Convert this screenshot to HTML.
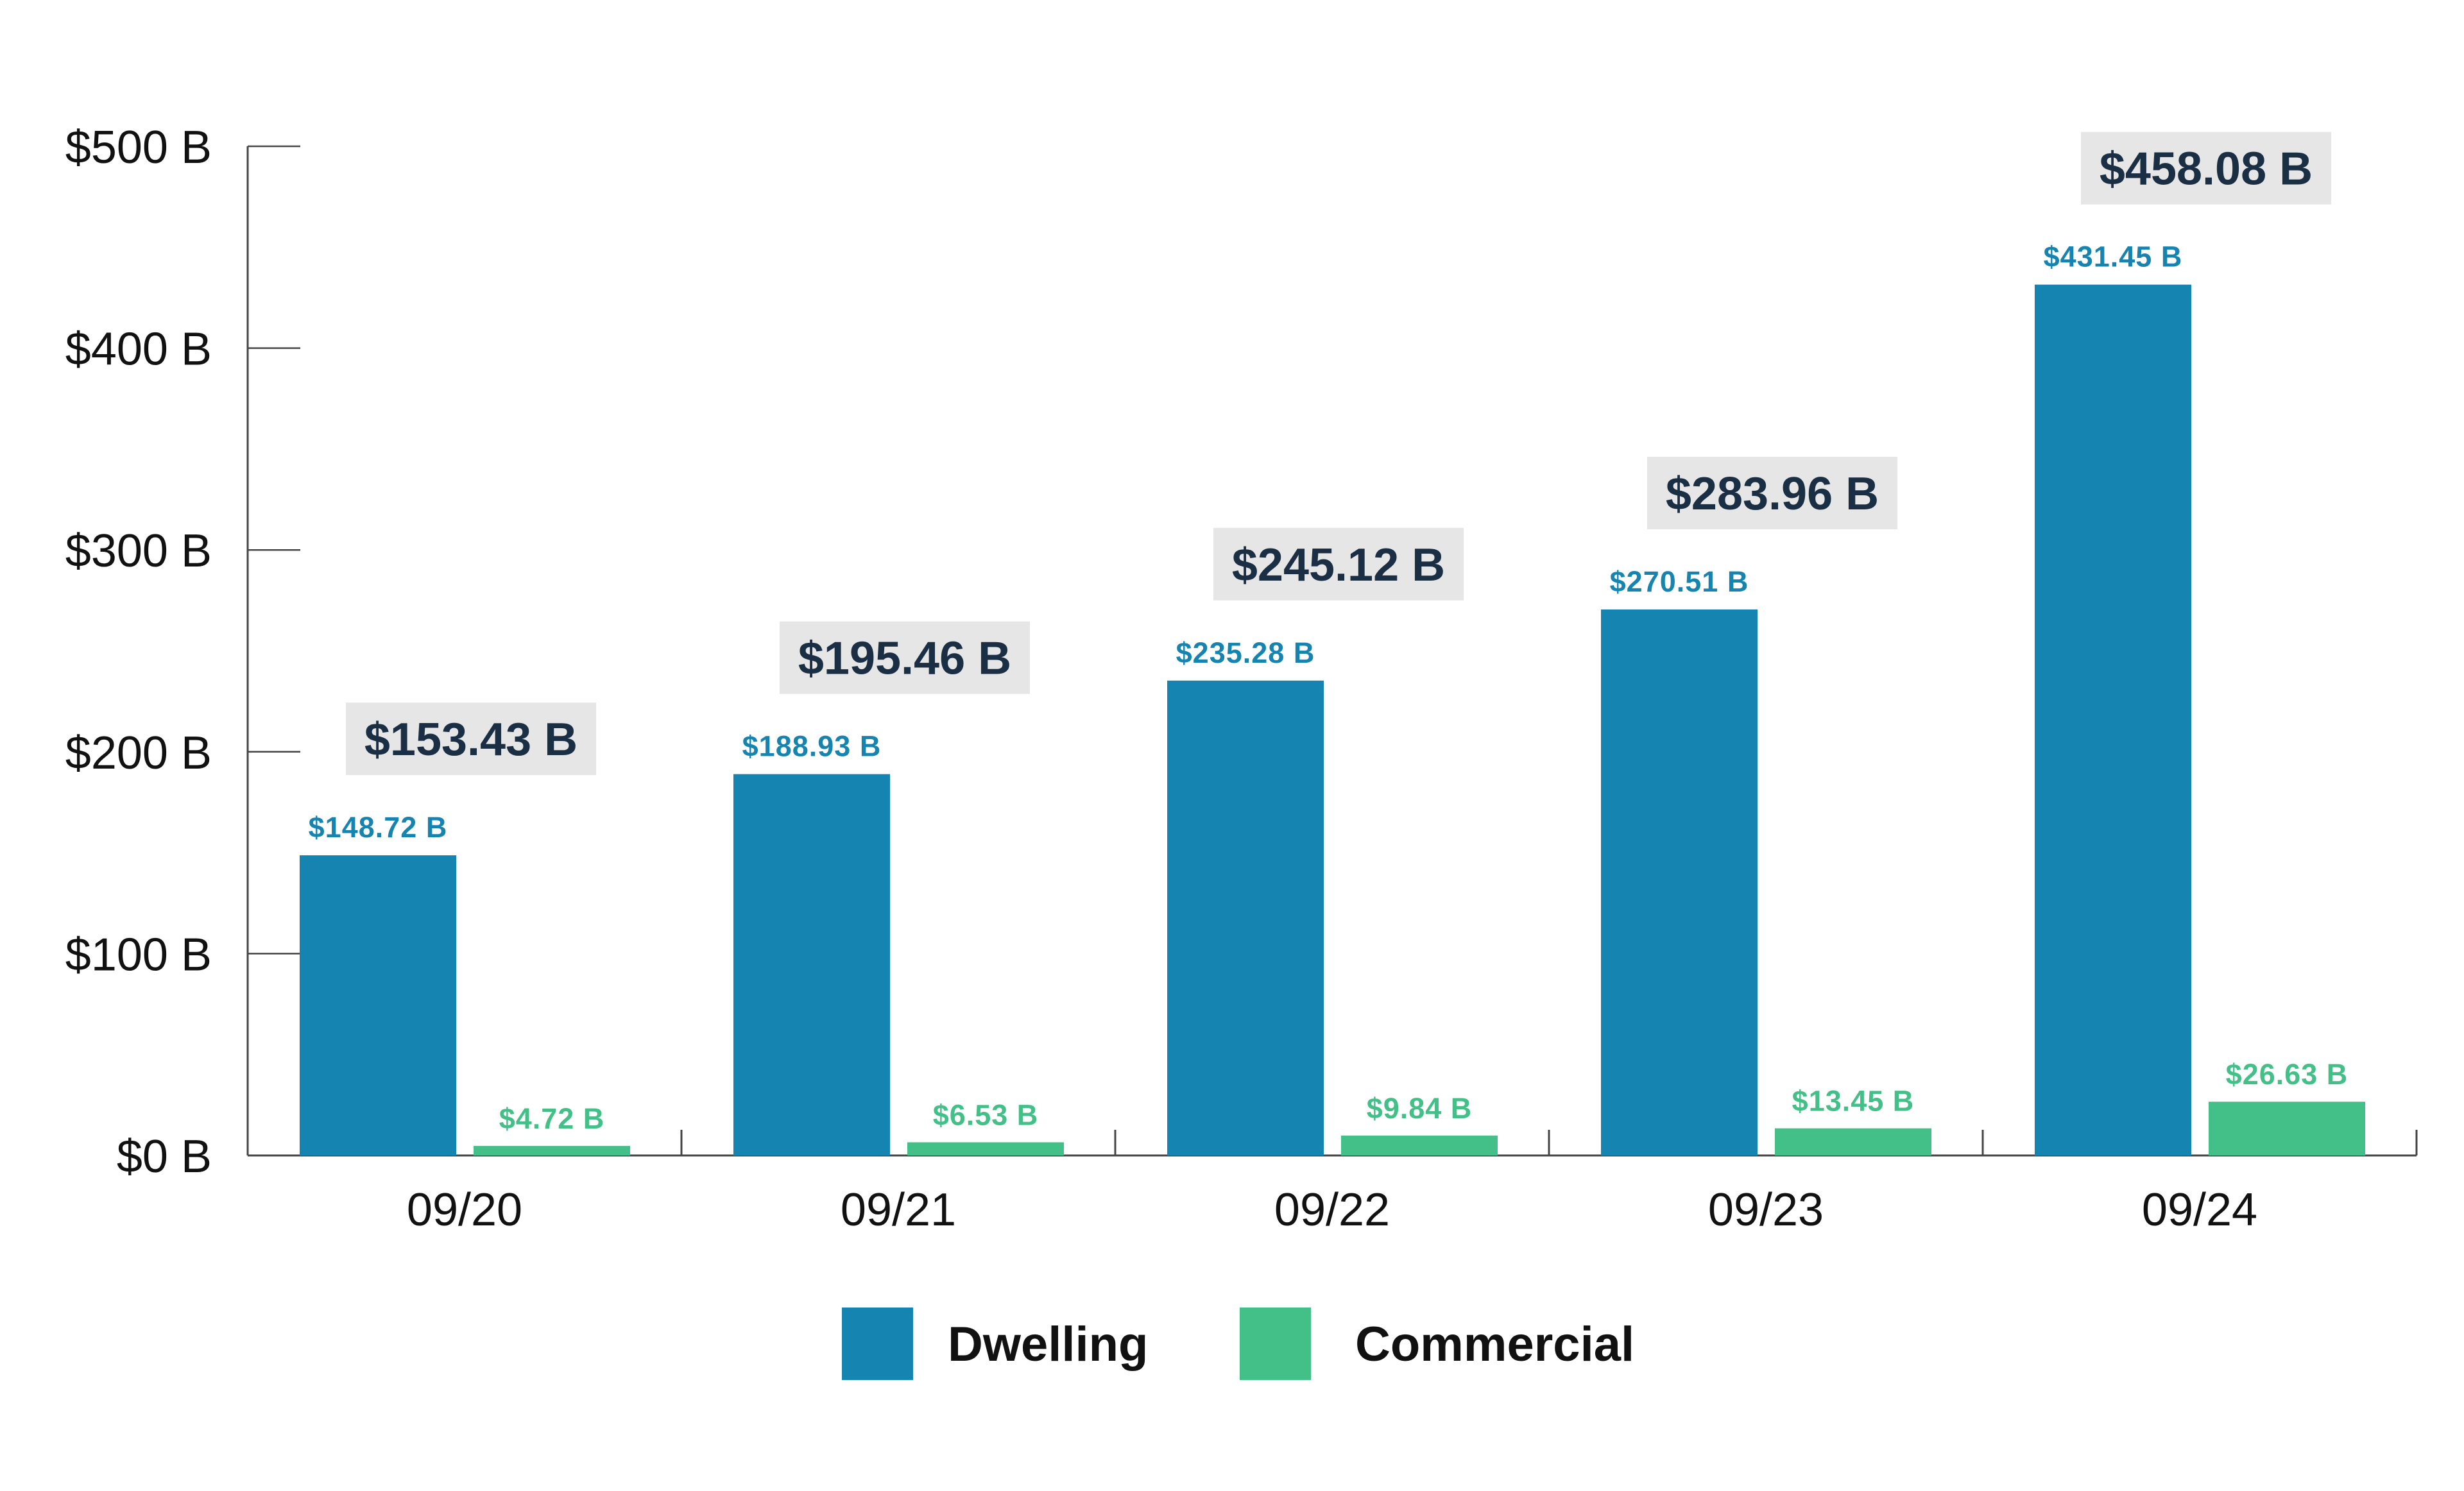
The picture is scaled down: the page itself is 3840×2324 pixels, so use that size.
<!DOCTYPE html>
<html><head><meta charset="utf-8">
<style>
html,body{margin:0;padding:0;background:#fff;}
svg{display:block;}
text{font-family:"Liberation Sans",sans-serif;}
</style></head>
<body>
<svg id="chart" width="3840" height="2324" viewBox="0 0 3840 2324" xmlns="http://www.w3.org/2000/svg">
<g id="axes"></g>
<g id="bars"></g>
<g id="labels"></g>
<g id="legend">
  <rect x="1312" y="2038" width="111" height="113" fill="#1584b0"/>
  <text x="1477" y="2121" font-size="76" font-weight="bold" fill="#111">Dwelling</text>
  <rect x="1932" y="2038" width="111" height="113" fill="#43c088"/>
  <text x="2112" y="2121" font-size="76" font-weight="bold" fill="#111">Commercial</text>
</g>
</svg>
<script>
const categories = ["09/20","09/21","09/22","09/23","09/24"];
const dwelling = [148.72,188.93,235.28,270.51,431.45];
const commercial = [4.72,6.53,9.84,13.45,26.63];
const totals = [153.43,195.46,245.12,283.96,458.08];
const yTicks = [0,100,200,300,400,500];
const yTickLabels = ["$0 B","$100 B","$200 B","$300 B","$400 B","$500 B"];

const NS="http://www.w3.org/2000/svg";
const x0=386, band=676, yBase=1801, yTop=228, yMax=500;
const y=v=>yBase-(v/yMax)*(yBase-yTop);
const bx=i=>x0+i*band;
function mk(tag,attrs,parent){const e=document.createElementNS(NS,tag);for(const k in attrs)e.setAttribute(k,attrs[k]);parent.appendChild(e);return e;}
const axes=document.getElementById('axes'),bars=document.getElementById('bars'),labels=document.getElementById('labels');
const fmt=v=>"$"+v.toFixed(2)+" B";

let e=mk('line',{x1:x0,y1:yTop,x2:x0,y2:yBase,stroke:'#444','stroke-width':3},axes);


e=mk('line',{x1:x0,y1:yBase,x2:x0+5*band,y2:yBase,stroke:'#444','stroke-width':3},axes);



yTicks.forEach((t,i)=>{
  const l=mk('line',{x1:x0,y1:y(t),x2:x0+82,y2:y(t),stroke:'#444','stroke-width':2.5},axes);
  
  
  const tx=mk('text',{x:330,y:y(t)+26,'font-size':72,'text-anchor':'end',fill:'#111'},axes);
  tx.textContent=yTickLabels[i];
  
  
});
for(let i=1;i<=5;i++){
  const l=mk('line',{x1:bx(i),y1:yBase-40,x2:bx(i),y2:yBase,stroke:'#444','stroke-width':3},axes);
  
  
}
categories.forEach((c,i)=>{
  const tx=mk('text',{x:bx(i)+band/2,y:1910,'font-size':72,'text-anchor':'middle',fill:'#111'},axes);
  tx.textContent=c;
  
  

  const dx=bx(i)+81, cx=bx(i)+352, w=244;
  const b1=mk('rect',{x:dx,y:y(dwelling[i]),width:w,height:yBase-y(dwelling[i]),fill:'#1584b0'},bars);
  
  
  const b2=mk('rect',{x:cx,y:y(commercial[i]),width:w,height:yBase-y(commercial[i]),fill:'#43c088'},bars);
  
  

  const l1=mk('text',{x:dx+w/2,y:y(dwelling[i])-28,'font-size':45,'font-weight':'bold','text-anchor':'middle',fill:'#1584b0','letter-spacing':1},labels);
  l1.textContent=fmt(dwelling[i]);
  
  
  const l2=mk('text',{x:cx+w/2,y:y(commercial[i])-27,'font-size':45,'font-weight':'bold','text-anchor':'middle',fill:'#43c088','letter-spacing':1},labels);
  l2.textContent=fmt(commercial[i]);
  
  

  const bb=y(dwelling[i])-125, bcx=bx(i)+band/2+10;
  const r=mk('rect',{x:bcx-195,y:bb-113,width:390,height:113,fill:'#e6e6e6'},labels);
  
  
  const t=mk('text',{x:bcx,y:bb-31,'font-size':72,'font-weight':'bold','text-anchor':'middle',fill:'#1a2e44'},labels);
  t.textContent=fmt(totals[i]);
  
  
});
</script>
</body></html>
